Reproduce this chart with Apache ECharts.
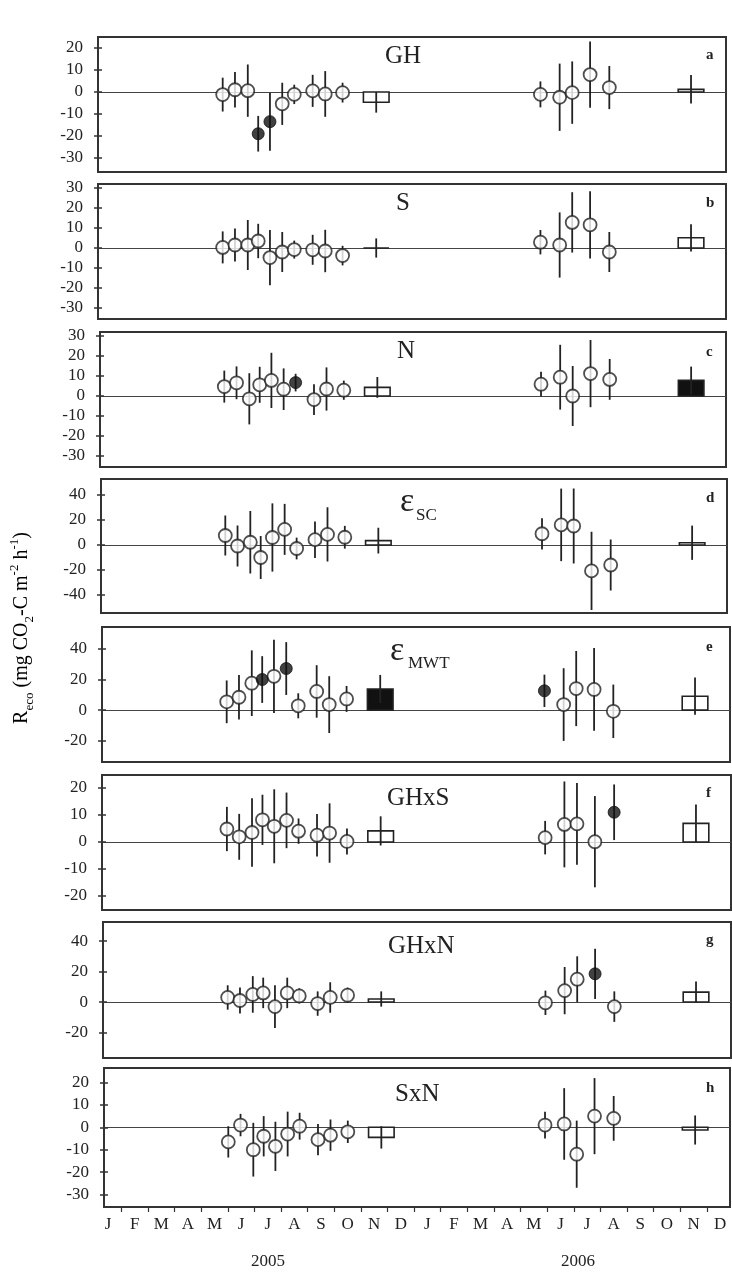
<!DOCTYPE html>
<html><head><meta charset="utf-8">
<script src="https://cdn.jsdelivr.net/npm/echarts@6/dist/echarts.min.js"></script>
<style>html,body{margin:0;padding:0;background:#fff}#c{width:732px;height:1274px}</style>
</head><body><div id="c"></div>
<script>
// ---------- data ----------
const months = ['J','F','M','A','M','J','J','A','S','O','N','D','J','F','M','A','M','J','J','A','S','O','N','D'];
const yearLabels = ['2005', '2006'];
// sampling dates (month index from Jan 2005 = 0)
const sampleX2005 = [4.52, 4.98, 5.46, 5.85, 6.29, 6.75, 7.20, 7.89, 8.36, 9.01];
const sampleX2006 = [16.42, 17.14, 17.61, 18.28, 19.00];
const annualX = [10.27, 22.06];

// panel a: GH
const ghMean05 = [-1.2, 1.0, 0.6, -19.0, -13.5, -5.4, -1.1, 0.5, -0.9, -0.3];
const ghErr05  = [7.7, 8.1, 11.9, 8.1, 13.2, 9.6, 4.4, 7.3, 10.4, 4.5];
const ghMean06 = [-1.1, -2.4, -0.3, 7.9, 2.0];
const ghErr06  = [5.9, 15.3, 14.2, 15.1, 9.8];
const ghAnnual = [-4.7, 1.2];
const ghAnnualErr = [4.7, 6.5];
// panel b: S
const sMean05 = [0.3, 1.5, 1.5, 3.5, -4.8, -2.0, -0.8, -0.9, -1.5, -3.8];
const sErr05  = [8.0, 8.3, 12.5, 8.6, 13.8, 10.0, 4.5, 7.5, 10.6, 4.9];
const sMean06 = [2.9, 1.5, 12.8, 11.6, -2.0];
const sErr06  = [6.1, 16.3, 15.1, 16.8, 10.0];
const sAnnual = [0.0, 5.1];
const sAnnualErr = [4.8, 6.8];
// panel c: N
const nMean05 = [4.7, 6.6, -1.4, 5.6, 7.8, 3.4, 6.7, -1.8, 3.5, 2.9];
const nErr05  = [8.0, 8.2, 12.8, 9.0, 13.8, 10.4, 4.4, 7.7, 10.8, 4.8];
const nMean06 = [5.9, 9.4, 0.0, 11.2, 8.3];
const nErr06  = [6.2, 16.2, 15.0, 16.8, 10.2];
const nAnnual = [4.3, 7.8];
const nAnnualErr = [5.2, 6.9];
// panel d: eps SC
const scMean05 = [7.6, -0.8, 2.2, -10.0, 6.0, 12.5, -2.8, 4.3, 8.5, 6.2];
const scErr05  = [16.0, 16.4, 25.0, 17.2, 27.3, 20.4, 8.7, 14.6, 21.7, 9.1];
const scMean06 = [9.0, 16.1, 15.2, -20.7, -16.0];
const scErr06  = [12.5, 29.0, 30.0, 31.3, 20.4];
const scAnnual = [3.5, 1.8];
const scAnnualErr = [10.3, 13.7];
// panel e: eps MWT
const mwtMean05 = [5.4, 8.4, 17.6, 20.0, 22.1, 27.2, 2.8, 12.2, 3.6, 7.3];
const mwtErr05  = [14.0, 14.5, 21.5, 15.3, 24.0, 17.3, 8.2, 17.2, 18.6, 8.5];
const mwtMean06 = [12.6, 3.6, 14.1, 13.5, -0.8];
const mwtErr06  = [10.6, 23.8, 24.6, 27.1, 17.5];
const mwtAnnual = [13.8, 9.1];
const mwtAnnualErr = [9.2, 12.2];
// panel f: GHxS
const ghsMean05 = [4.8, 1.9, 3.5, 8.2, 5.8, 8.0, 4.0, 2.5, 3.3, 0.2];
const ghsErr05  = [8.2, 8.5, 12.7, 9.3, 13.7, 10.3, 4.7, 7.9, 11.0, 4.8];
const ghsMean06 = [1.6, 6.5, 6.7, 0.1, 11.0];
const ghsErr06  = [6.2, 15.9, 15.1, 16.9, 10.3];
const ghsAnnual = [4.1, 6.9];
const ghsAnnualErr = [5.4, 7.0];
// panel g: GHxN
const ghnMean05 = [3.0, 1.0, 5.0, 6.0, -3.0, 6.0, 4.0, -1.0, 3.0, 4.5];
const ghnErr05  = [8.0, 8.5, 12.0, 10.0, 14.0, 10.0, 5.0, 8.0, 10.0, 5.0];
const ghnMean06 = [-0.5, 7.5, 15.0, 18.5, -3.0];
const ghnErr06  = [8.0, 15.5, 15.0, 16.5, 10.0];
const ghnAnnual = [2.0, 6.5];
const ghnAnnualErr = [5.0, 7.0];
// panel h: SxN
const snMean05 = [-6.5, 1.0, -10.0, -4.0, -8.5, -3.0, 0.5, -5.5, -3.5, -2.0];
const snErr05  = [7.0, 5.0, 12.0, 9.0, 11.0, 10.0, 6.0, 7.0, 7.0, 5.0];
const snMean06 = [1.0, 1.5, -12.0, 5.0, 4.0];
const snErr06  = [6.0, 16.0, 15.0, 17.0, 10.0];
const snAnnual = [-4.5, -1.2];
const snAnnualErr = [5.0, 6.5];

// significant (filled) markers: indices
const filled05 = {a:[3,4], c:[6], e:[3,5]};
const filled06 = {e:[0], f:[4], g:[3]};
const filledAnnual = {c:[1], e:[0]};

// y tick labels
const ticksA = [-30, -20, -10, 0, 10, 20];
const ticksB = [-30, -20, -10, 0, 10, 20, 30];
const ticksC = [-30, -20, -10, 0, 10, 20, 30];
const ticksD = [-40, -20, 0, 20, 40];
const ticksE = [-20, 0, 20, 40];
const ticksF = [-20, -10, 0, 10, 20];
const ticksG = [-20, 0, 20, 40];
const ticksH = [-30, -20, -10, 0, 10, 20];

// ---------- layout ----------
const panels = [
  {key:'a', m05:ghMean05, e05:ghErr05, m06:ghMean06, e06:ghErr06, ann:ghAnnual, annE:ghAnnualErr, ticks:ticksA, y:[-36.4, 25],   g:{left:98,  right:6, top:37,   height:135}},
  {key:'b', m05:sMean05,  e05:sErr05,  m06:sMean06,  e06:sErr06,  ann:sAnnual,  annE:sAnnualErr,  ticks:ticksB, y:[-35.5, 32],   g:{left:98,  right:6, top:184,  height:135}},
  {key:'c', m05:nMean05,  e05:nErr05,  m06:nMean06,  e06:nErr06,  ann:nAnnual,  annE:nAnnualErr,  ticks:ticksC, y:[-35.5, 32],   g:{left:100, right:6, top:332,  height:135}},
  {key:'d', m05:scMean05, e05:scErr05, m06:scMean06, e06:scErr06, ann:scAnnual, annE:scAnnualErr, ticks:ticksD, y:[-54.4, 52.8], g:{left:101, right:5, top:479,  height:134}},
  {key:'e', m05:mwtMean05,e05:mwtErr05,m06:mwtMean06,e06:mwtErr06,ann:mwtAnnual,annE:mwtAnnualErr,ticks:ticksE, y:[-34, 54.4],   g:{left:102, right:2, top:627,  height:135}},
  {key:'f', m05:ghsMean05,e05:ghsErr05,m06:ghsMean06,e06:ghsErr06,ann:ghsAnnual,annE:ghsAnnualErr,ticks:ticksF, y:[-25.2, 24.8], g:{left:102, right:1, top:775,  height:135}},
  {key:'g', m05:ghnMean05,e05:ghnErr05,m06:ghnMean06,e06:ghnErr06,ann:ghnAnnual,annE:ghnAnnualErr,ticks:ticksG, y:[-36.7, 52.5], g:{left:103, right:1, top:922,  height:136}},
  {key:'h', m05:snMean05, e05:snErr05, m06:snMean06, e06:snErr06, ann:snAnnual, annE:snAnnualErr, ticks:ticksH, y:[-35.6, 26.5], g:{left:104, right:2, top:1068, height:139}}
];

const FONT = '"Liberation Serif","DejaVu Serif",serif';
const INK = '#222';
const XMIN = -0.15, XMAX = 23.37;

function renderErr(params, api) {
  const x = api.value(0), m = api.value(1), e = api.value(2);
  const p1 = api.coord([x, m - e]), p2 = api.coord([x, m + e]);
  return {type:'line', shape:{x1:p1[0], y1:p1[1], x2:p2[0], y2:p2[1]}, style:{stroke:INK, lineWidth:1.8}};
}
function renderBar(params, api) {
  const x = api.value(0), v = api.value(1), f = api.value(2);
  const a = api.coord([x - 0.48, v]), b = api.coord([x + 0.48, 0]);
  return {type:'rect', shape:{x:a[0], y:Math.min(a[1], b[1]), width:b[0] - a[0], height:Math.abs(b[1] - a[1])},
          style:{fill: f ? '#111' : '#fff', stroke:INK, lineWidth:1.6}};
}

const grid = [], xAxis = [], yAxis = [], series = [];
panels.forEach((p, i) => {
  grid.push(Object.assign({show:true, borderColor:'#333', borderWidth:2, backgroundColor:'transparent'}, p.g));
  xAxis.push({type:'value', gridIndex:i, min:XMIN, max:XMAX, splitLine:{show:false},
    axisLine:{show:true, onZero:true, lineStyle:{color:'#444', width:1.2}}, axisTick:{show:false}, axisLabel:{show:false}});
  yAxis.push({type:'value', gridIndex:i, min:p.y[0], max:p.y[1], splitLine:{show:false},
    axisLine:{show:false},
    axisTick:{show:true, inside:false, length:8, customValues:p.ticks, lineStyle:{color:'#333', width:1.5}},
    axisLabel:{show:true, customValues:p.ticks, margin:15, fontFamily:FONT, fontSize:17, color:INK}});

  const f05 = filled05[p.key] || [], f06 = filled06[p.key] || [], fa = filledAnnual[p.key] || [];
  const errData = [], openPts = [], fillPts = [], barData = [];
  sampleX2005.forEach((x, j) => {
    errData.push([x, p.m05[j], p.e05[j]]);
    (f05.includes(j) ? fillPts : openPts).push([x, p.m05[j]]);
  });
  sampleX2006.forEach((x, j) => {
    errData.push([x, p.m06[j], p.e06[j]]);
    (f06.includes(j) ? fillPts : openPts).push([x, p.m06[j]]);
  });
  annualX.forEach((x, j) => {
    barData.push([x, p.ann[j], fa.includes(j) ? 1 : 0]);
    errData.push([x, p.ann[j], p.annE[j]]);
  });
  series.push({type:'custom', xAxisIndex:i, yAxisIndex:i, renderItem:renderBar, data:barData, z:3, silent:true, animation:false});
  series.push({type:'custom', xAxisIndex:i, yAxisIndex:i, renderItem:renderErr, data:errData, z:4, silent:true, animation:false});
  series.push({type:'scatter', xAxisIndex:i, yAxisIndex:i, data:openPts, symbol:'circle', symbolSize:13, z:5,
    itemStyle:{color:'#fff', borderColor:INK, borderWidth:1.8}, silent:true, animation:false});
  series.push({type:'scatter', xAxisIndex:i, yAxisIndex:i, data:fillPts, symbol:'circle', symbolSize:12, z:6,
    itemStyle:{color:'#111', borderColor:'#111', borderWidth:1}, silent:true, animation:false});
});
// bottom month axis
xAxis.push({type:'value', gridIndex:7, min:XMIN, max:XMAX, position:'bottom', splitLine:{show:false},
  axisLine:{show:false, onZero:false},
  axisTick:{show:true, inside:false, length:5, customValues:months.slice(0, 23).map((m, k) => k + 0.5), lineStyle:{color:'#333', width:1.2}},
  axisLabel:{show:true, customValues:months.map((m, k) => k), margin:9, fontFamily:FONT, fontSize:17, color:INK,
    formatter:(v) => months[Math.round(v)]}});

// ---------- texts ----------
function txt(x, y, text, size, opts) {
  return Object.assign({type:'text', x:x, y:y, silent:true,
    style:Object.assign({text:text, fontFamily:FONT, fontSize:size, fill:INK, align:'left', verticalAlign:'middle',
      textAlign:'left', textVerticalAlign:'middle'}, (opts && opts.style) || {})}, (opts && opts.el) || {});
}
const graphic = [
  txt(385, 56, 'GH', 25),
  txt(396, 203, 'S', 25),
  txt(397, 351, 'N', 25),
  txt(400, 502, 'ε', 34),
  txt(416, 516, 'SC', 17),
  txt(390, 651, 'ε', 34),
  txt(408, 664, 'MWT', 17),
  txt(387, 798, 'GHxS', 25),
  txt(388, 946, 'GHxN', 25),
  txt(395, 1094, 'SxN', 25)
];
const letters = ['a','b','c','d','e','f','g','h'];
const letterY = [55, 203, 352, 498, 647, 793, 940, 1088];
letters.forEach((l, k) => graphic.push(txt(706, letterY[k], l, 15, {style:{fontWeight:'bold'}})));
graphic.push(txt(268, 1262, yearLabels[0], 17, {style:{align:'center', textAlign:'center'}}));
graphic.push(txt(578, 1262, yearLabels[1], 17, {style:{align:'center', textAlign:'center'}}));
// y-axis title
graphic.push({type:'text', x:22, y:628, rotation:Math.PI / 2, silent:true,
  style:{text:'{n|R}{b|eco}{n| (mg CO}{b|2}{n|-C m}{t|-2}{n| h}{t|-1}{n|)}',
    align:'center', verticalAlign:'middle', textAlign:'center', textVerticalAlign:'middle',
    rich:{
      n:{fontFamily:FONT, fontSize:20, color:INK, lineHeight:28, verticalAlign:'middle'},
      b:{fontFamily:FONT, fontSize:13, color:INK, lineHeight:14, verticalAlign:'bottom'},
      t:{fontFamily:FONT, fontSize:13, color:INK, lineHeight:14, verticalAlign:'top'}
    }}});

const chart = echarts.init(document.getElementById('c'), null, {renderer:'canvas'});
chart.setOption({animation:false, backgroundColor:'#fff', grid:grid, xAxis:xAxis, yAxis:yAxis, series:series, graphic:graphic});
</script></body></html>
